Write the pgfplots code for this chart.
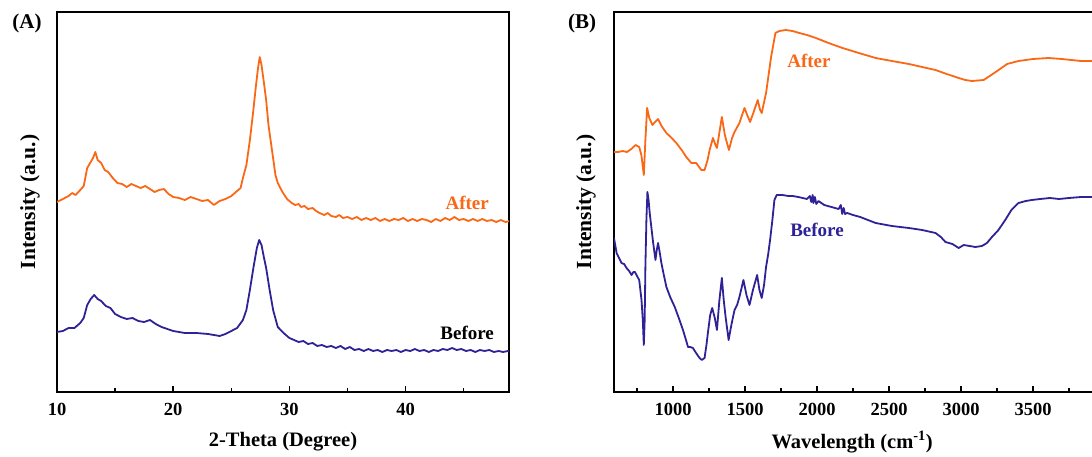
\documentclass[border=0pt]{standalone}
\usepackage{fontspec}
\setmainfont{Liberation Serif}
\usepackage{pgfplots}
\pgfplotsset{compat=1.18}
\definecolor{cOr}{RGB}{250,104,22}
\definecolor{cBl}{RGB}{46,34,150}
\pgfplotsset{
  myax/.style={
    scale only axis, height=380bp, ymin=0, ymax=380, ytick=\empty,
    axis line style={line width=1.7bp},
    tick align=inside, xtick pos=bottom,
    major tick length=6bp, minor tick length=3.5bp,
    every tick/.style={black, line width=1.4bp},
    tick label style={font=\fontsize{18.5bp}{21bp}\selectfont\bfseries},
    /pgf/number format/assume math mode=true,
    /pgf/number format/1000 sep={},
    scaled x ticks=false,
    xticklabel style={yshift=-7.5bp},
    label style={font=\fontsize{20.5bp}{24bp}\selectfont\bfseries},
    clip=true,
  },
  curve/.style={line width=1.8bp, line join=round},
}
\begin{document}
\begin{tikzpicture}
\path[use as bounding box] (0,0) rectangle (1092bp,457bp);
\begin{scope}
\clip (0,0) rectangle (1092bp,457bp);
% ---------------- Panel A ----------------
\begin{axis}[myax, at={(57bp,65bp)}, anchor=south west, width=452bp,
  xmin=10, xmax=48.9, xtick={10,20,30,40}, minor xtick={15,25,35,45},
  xlabel={2-Theta (Degree)}, ylabel={Intensity (a.u.)},
  xlabel style={at={(axis description cs:0.5,-0.1316)}, anchor=center},
  ylabel style={at={(axis description cs:-0.06,0.5)}, anchor=center, font=\fontsize{21.5bp}{24bp}\selectfont\bfseries}]
\addplot[curve, cOr] coordinates {
(10,190)(10.5,193)(11,196)(11.3,199)(11.6,197)(12,202)(12.3,206)(12.6,224)(12.9,230)(13.1,234)(13.3,240)(13.5,232)(13.8,229)(14.1,222)(14.4,220)(14.8,214)(15.2,209)(15.6,208)(16,205)(16.4,208)(16.8,206)(17.2,204)(17.6,206)(18,203)(18.4,200)(18.8,202)(19.2,203)(19.6,198)(20,195)(20.5,194)(21,192)(21.5,195)(22,193)(22.5,191)(23,192)(23.5,187)(24,191)(24.5,193)(25,196)(25.5,201)(25.8,204)(26,214)(26.3,227)(26.6,252)(26.9,282)(27.1,304)(27.3,324)(27.45,335)(27.6,327)(27.8,310)(28,292)(28.2,267)(28.5,242)(28.8,217)(29,209)(29.4,200)(29.8,193)(30.2,189)(30.5,187)(30.8,188)(31,185)(31.3,186)(31.6,183)(32,184)(32.3,181)(32.6,179)(33,177)(33.3,179)(33.6,176)(34,175)(34.3,177)(34.6,174)(35,175)(35.4,173)(35.8,175)(36.2,172)(36.6,174)(37,172)(37.4,174)(37.8,171)(38.2,173)(38.6,171)(39,173)(39.4,172)(39.8,174)(40.2,171)(40.6,173)(41,171)(41.4,173)(41.8,172)(42.2,170)(42.6,173)(43,171)(43.4,174)(43.8,172)(44.2,175)(44.6,172)(45,173)(45.4,171)(45.8,173)(46.2,171)(46.6,173)(47,171)(47.4,172)(47.8,170)(48.2,172)(48.6,170)(49,171)};
\addplot[curve, cBl] coordinates {
(10,60)(10.5,61)(11,64)(11.5,64)(12,69)(12.3,74)(12.6,87)(12.9,93)(13.2,97)(13.5,93)(13.8,91)(14.2,86)(14.6,84)(15,78)(15.5,75)(16,73)(16.5,74)(17,71)(17.5,70)(18,72)(18.5,68)(19,65)(19.5,63)(20,61)(20.5,60)(21,59)(22,59)(23,58)(24,56)(24.5,58)(25,61)(25.5,64)(26,72)(26.3,82)(26.6,102)(26.9,124)(27.2,144)(27.4,152)(27.6,147)(27.8,135)(28,124)(28.3,102)(28.6,82)(29,65)(29.5,59)(30,54)(30.4,52)(30.8,50)(31.2,51)(31.6,48)(32,49)(32.4,46)(32.8,47)(33.2,45)(33.6,46)(34,44)(34.4,46)(34.8,43)(35.2,45)(35.6,42)(36,43)(36.4,41)(36.8,43)(37.2,41)(37.6,42)(38,40)(38.4,42)(38.8,41)(39.2,42)(39.6,40)(40,42)(40.4,41)(40.8,43)(41.2,41)(41.6,42)(42,40)(42.4,42)(42.8,41)(43.2,43)(43.6,42)(44,44)(44.4,42)(44.8,43)(45.2,41)(45.6,42)(46,40)(46.4,42)(46.8,41)(47.2,42)(47.6,40)(48,41)(48.4,40)(48.8,41)(49,40)};
\node[text=cOr, font=\fontsize{19bp}{21bp}\selectfont\bfseries] at (axis cs:45.3,189) {After};
\node[text=black, font=\fontsize{19bp}{21bp}\selectfont\bfseries] at (axis cs:45.3,59) {Before};
\end{axis}
% ---------------- Panel B ----------------
\begin{axis}[myax, at={(614bp,65bp)}, anchor=south west, width=491bp,
  xmin=590, xmax=4000, xtick={1000,1500,2000,2500,3000,3500},
  minor xtick={750,1250,1750,2250,2750,3250,3750},
  xlabel={Wavelength (cm\textsuperscript{-1})}, ylabel={Intensity (a.u.)},
  xlabel style={at={(axis description cs:0.485,-0.1316)}, anchor=center},
  ylabel style={at={(axis description cs:-0.057,0.5)}, anchor=center, font=\fontsize{21.5bp}{24bp}\selectfont\bfseries}]
\addplot[curve, cOr] coordinates {
(590,240)(620,240)(650,241)(680,240)(710,243)(740,247)(765,245)(780,237)(797,217)(808,252)(820,284)(835,274)(857,267)(875,270)(896,273)(920,266)(954,259)(990,254)(1023,249)(1060,242)(1092,235)(1127,229)(1161,229)(1196,222)(1219,222)(1240,232)(1254,242)(1277,254)(1295,247)(1305,244)(1339,275)(1360,257)(1369,252)(1388,242)(1410,254)(1427,260)(1461,269)(1496,284)(1515,277)(1535,270)(1560,280)(1588,292)(1605,282)(1616,279)(1646,299)(1681,335)(1711,359)(1738,361)(1784,362)(1830,361)(1877,359)(1930,357)(1992,354)(2080,349)(2177,344)(2290,339)(2407,334)(2520,331)(2638,328)(2730,325)(2823,322)(2900,318)(2984,314)(3030,312)(3076,311)(3157,312)(3210,317)(3261,322)(3320,328)(3399,331)(3500,333)(3607,334)(3700,333)(3833,331)(3950,331)(4000,331)};
\addplot[curve, cBl] coordinates {
(590,154)(608,139)(625,134)(642,129)(660,128)(677,124)(695,121)(712,117)(725,120)(735,120)(750,116)(765,112)(781,92)(790,72)(797,47)(803,72)(808,125)(815,172)(822,200)(830,192)(838,179)(850,164)(862,149)(878,132)(887,142)(896,149)(907,140)(919,129)(936,117)(954,105)(980,95)(1012,85)(1040,74)(1069,62)(1090,52)(1104,45)(1120,45)(1138,44)(1160,39)(1184,34)(1200,32)(1219,34)(1232,47)(1242,59)(1258,77)(1272,84)(1290,74)(1305,62)(1322,92)(1339,114)(1352,92)(1365,75)(1386,52)(1405,67)(1427,82)(1445,87)(1461,95)(1489,112)(1510,97)(1531,87)(1555,102)(1584,117)(1600,102)(1616,94)(1632,107)(1646,125)(1660,137)(1674,152)(1690,172)(1704,192)(1720,197)(1760,197)(1800,196)(1831,196)(1870,195)(1900,194)(1930,193)(1950,196)(1960,190)(1970,197)(1975,189)(1985,195)(1995,188)(2010,191)(2050,187)(2100,185)(2150,183)(2165,187)(2175,178)(2185,184)(2195,178)(2210,179)(2250,177)(2300,175)(2407,169)(2520,166)(2638,164)(2730,162)(2823,159)(2860,155)(2892,150)(2940,148)(2984,144)(3019,147)(3060,146)(3100,145)(3145,146)(3180,149)(3215,155)(3260,162)(3307,172)(3350,182)(3399,189)(3450,191)(3491,192)(3550,193)(3618,194)(3680,193)(3750,194)(3833,195)(3920,195)(4000,195)};
\node[text=cOr, font=\fontsize{19bp}{21bp}\selectfont\bfseries] at (axis cs:1944,331) {After};
\node[text=cBl, font=\fontsize{19bp}{21bp}\selectfont\bfseries] at (axis cs:2000,162) {Before};
\end{axis}
\node[font=\fontsize{21bp}{24bp}\selectfont\bfseries] at (27bp,434bp) {(A)};
\node[font=\fontsize{21bp}{24bp}\selectfont\bfseries] at (582bp,434bp) {(B)};
\end{scope}
\end{tikzpicture}
\end{document}
